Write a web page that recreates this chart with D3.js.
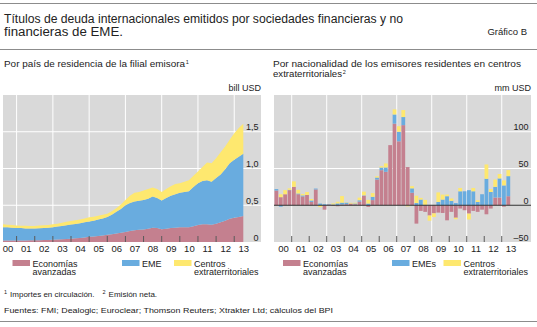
<!DOCTYPE html>
<html lang="es">
<head>
<meta charset="UTF-8">
<title>Títulos de deuda internacionales de EME</title>
<script src="https://cdn.jsdelivr.net/npm/d3@7"></script>
<style>
  * { box-sizing: border-box; padding: 0; margin: 0; border: 0; }
  body { background: #fff; }
  svg text { font-family: "Liberation Sans", Arial, sans-serif; fill: #222; }
</style>
</head>
<body>
<svg width="537" height="327"></svg>
<script>
// trimestres 2000T1 - 2013T2 (inicio de cada trimestre, en años)
var quarters = [];
for (var yr = 2000; yr <= 2013; yr++) {
  for (var q = 0; q < 4; q++) {
    if (yr === 2013 && q > 1) break;
    quarters.push(yr + q / 4);
  }
}
var yearLabels = ["00", "01", "02", "03", "04", "05", "06", "07", "08", "09", "10", "11", "12", "13"];
var gridYears = [2001, 2003, 2005, 2007, 2009, 2011, 2013];
var tickYears = [2001, 2002, 2003, 2004, 2005, 2006, 2007, 2008, 2009, 2010, 2011, 2012, 2013];

// panel izquierdo: importes en circulación, bill USD
var stockAdv = [0.02, 0.02, 0.02, 0.022, 0.022, 0.022, 0.023, 0.025, 0.025, 0.027, 0.028, 0.03, 0.033, 0.036,
  0.04, 0.045, 0.05, 0.055, 0.062, 0.07, 0.075, 0.082, 0.09, 0.1, 0.105, 0.115, 0.125, 0.136, 0.15, 0.16,
  0.165, 0.17, 0.18, 0.195, 0.19, 0.175, 0.18, 0.19, 0.195, 0.2, 0.2, 0.2, 0.215, 0.23, 0.24, 0.24, 0.235,
  0.25, 0.27, 0.29, 0.315, 0.33, 0.34, 0.355];
var stockEme = [0.18, 0.18, 0.175, 0.168, 0.168, 0.163, 0.16, 0.158, 0.163, 0.163, 0.167, 0.17, 0.177, 0.182,
  0.188, 0.192, 0.195, 0.2, 0.206, 0.21, 0.215, 0.223, 0.23, 0.24, 0.265, 0.295, 0.325, 0.364, 0.38, 0.39,
  0.395, 0.4, 0.41, 0.425, 0.41, 0.39, 0.42, 0.44, 0.455, 0.47, 0.48, 0.49, 0.535, 0.57, 0.59, 0.6, 0.585,
  0.62, 0.65, 0.7, 0.755, 0.79, 0.82, 0.845];
var stockOff = [0.04, 0.035, 0.035, 0.035, 0.032, 0.035, 0.035, 0.035, 0.037, 0.038, 0.037, 0.04, 0.04, 0.044,
  0.047, 0.049, 0.05, 0.05, 0.052, 0.056, 0.055, 0.052, 0.05, 0.046, 0.05, 0.05, 0.06, 0.07, 0.1, 0.12,
  0.12, 0.13, 0.13, 0.12, 0.12, 0.115, 0.12, 0.13, 0.14, 0.13, 0.14, 0.15, 0.15, 0.16, 0.19, 0.24, 0.25,
  0.27, 0.3, 0.31, 0.32, 0.36, 0.39, 0.41];

// panel derecho: emisión neta, mm USD
var netAdv = [20, 11, 15, 20.5, 25, 15, 12, 14, 4.5, 21.5, 0, -6, 1, -1, -1.4, 1, 1.5, 2.3, 1.4, 5,
  13, -2.3, 7, 35, 47.7, 45.5, 81.8, 111, 87, 109, 52, 17, -25, -7.7, -9, -14, -11, -10, -10.5, -20.5,
  -9, -17, -4.5, -6.8, -11.4, -7.7, -9, -6, -12.3, -4.5, 10.5, 10.5, -2, 12.3];
var netEme = [2, -2, 0, 0.5, 0, 1, 1.4, 0, 2, 1.2, 2.3, 1.4, 0.5, 1, 2.5, 2.5, 2, 0, 1, 1.8,
  0.5, 2.3, 4.5, 2.7, 3.6, 5.9, 0, 12.5, 13, 11, 0, 6, 3, 7.7, 0.5, 0, 0, 4.5, 7.7, 12.3,
  6, 3, 19, 19, 20.5, 19, 4.5, 15, 36, 18, 14.5, 26, 27, 27.3];
var netOff = [0, 4, 5.5, 2, 7.5, 5, 2, 4, 2, 0, -2.5, 0, 0, 1.5, 2.3, 9, 0.5, 1, 1, 3.6,
  5, 5, 5, 1.8, 1.8, 5.5, 0, 7, 7.5, 9.5, -1.5, 3, 10, 2.3, 6.8, -7, -5, 13, 6.8, 2.3,
  3.2, -2, 4.5, 0, -8, 4.5, 2.3, 0, 19.5, 4, 10, 6, 6.8, 8.2];

var keys = ["adv", "eme", "off"];
var colors = { adv: "#c4808f", eme: "#69acdf", off: "#fee86f" };
var leftLegend = [["Economías", "avanzadas"], ["EME"], ["Centros", "extraterritoriales"]];
var rightLegend = [["Economías", "avanzadas"], ["EMEs"], ["Centros", "extraterritoriales"]];
var leftTicks = [0, 0.5, 1, 1.5];
var rightTicks = [-50, 0, 50, 100];

var svg = d3.select("svg");
var TOP = 95, BOT = 242;

// ---- cabecera ----
svg.append("line").attr("x1", 0).attr("x2", 537).attr("y1", 3.5).attr("y2", 3.5)
  .attr("stroke", "#8c8c8c").attr("stroke-width", 1);
svg.append("text").attr("x", 4).attr("y", 22.5).attr("font-size", 12.5)
  .attr("textLength", 399).attr("lengthAdjust", "spacingAndGlyphs")
  .text("Títulos de deuda internacionales emitidos por sociedades financieras y no");
svg.append("text").attr("x", 4).attr("y", 35.5).attr("font-size", 12.5)
  .attr("textLength", 119).attr("lengthAdjust", "spacingAndGlyphs")
  .text("financieras de EME.");
svg.append("text").attr("x", 527).attr("y", 34.5).attr("font-size", 9.5).attr("text-anchor", "end")
  .text("Gráfico B");
svg.append("line").attr("x1", 0).attr("x2", 537).attr("y1", 49.5).attr("y2", 49.5)
  .attr("stroke", "#8c8c8c").attr("stroke-width", 1);

function subtitle(x, y, txt, len, sup) {
  var t = svg.append("text").attr("x", x).attr("y", y).attr("font-size", 9.5)
    .attr("textLength", len).attr("lengthAdjust", "spacingAndGlyphs").text(txt);
  if (sup) svg.append("text").attr("x", x + len + 0.8).attr("y", y - 3).attr("font-size", 5.5).text(sup);
  return t;
}
subtitle(4, 66.5, "Por país de residencia de la filial emisora", 181, "1");
subtitle(273, 66.5, "Por nacionalidad de los emisores residentes en centros", 248);
subtitle(273, 76.5, "extraterritoriales", 69, "2");

// ---- marco común de cada panel ----
function frame(x0, x1, xScale, yScale, hLines, unit) {
  var g = svg.append("g");
  g.append("rect").attr("x", x0).attr("y", TOP).attr("width", x1 - x0).attr("height", BOT - TOP)
    .attr("fill", "#d9d9d9");
  g.selectAll(".vg").data(gridYears).enter().append("line")
    .attr("x1", xScale).attr("x2", xScale).attr("y1", TOP).attr("y2", BOT)
    .attr("stroke", "#fff").attr("stroke-width", 1);
  g.selectAll(".hg").data(hLines).enter().append("line")
    .attr("x1", x0).attr("x2", x1).attr("y1", yScale).attr("y2", yScale)
    .attr("stroke", "#fff").attr("stroke-width", 1);
  svg.append("text").attr("x", x1).attr("y", 91).attr("font-size", 9).attr("text-anchor", "end")
    .attr("fill", "#333").text(unit);
  return g;
}

function xAxis(xScale) {
  var ax = d3.axisBottom(xScale)
    .tickValues(yearLabels.map(function (d, i) { return 2000 + i + 0.5; }))
    .tickFormat(function (d) { return yearLabels[Math.floor(d) - 2000]; })
    .tickSize(0).tickPadding(0);
  var g = svg.append("g").attr("transform", "translate(0," + 245 + ")").call(ax);
  g.select(".domain").remove();
  g.selectAll("text").attr("font-size", 9.5).attr("font-family", "Liberation Sans, Arial, sans-serif")
    .attr("fill", "#222").attr("dy", "0.72em");
}

function ticks(xScale) {
  svg.append("g").selectAll("line").data(tickYears).enter().append("line")
    .attr("x1", xScale).attr("x2", xScale).attr("y1", BOT - 6).attr("y2", BOT)
    .attr("stroke", "#5a5a5a").attr("stroke-width", 1);
}

function yAxis(yScale, xRight, fmt, values) {
  var ax = d3.axisRight(yScale).tickValues(values).tickFormat(fmt).tickSize(0).tickPadding(0);
  var g = svg.append("g").attr("transform", "translate(" + xRight + ",0)").call(ax);
  g.select(".domain").remove();
  g.selectAll("text").attr("text-anchor", "end").attr("dy", "-2").attr("x", 0)
    .attr("font-size", 9).attr("font-family", "Liberation Sans, Arial, sans-serif").attr("fill", "#222");
}

function legend(items, xs) {
  items.forEach(function (lines, i) {
    svg.append("rect").attr("x", xs[i]).attr("y", 260).attr("width", 17.5).attr("height", 6)
      .attr("fill", colors[keys[i]]);
    lines.forEach(function (l, j) {
      svg.append("text").attr("x", xs[i] + 20).attr("y", 266.5 + j * 8.7).attr("font-size", 9)
        .attr("fill", "#222").text(l);
    });
  });
}

// ---- panel izquierdo: áreas apiladas ----
var xL = d3.scaleLinear().domain([2000.25, 2013.5]).range([3, 243.3]);
var yL = d3.scaleLinear().domain([0, 2]).range([BOT, TOP]);
frame(3, 261, xL, yL, [0.5, 1, 1.5], "bill USD");

var stockRows = quarters.map(function (t, i) {
  return { t: t + 0.25, adv: stockAdv[i], eme: stockEme[i], off: stockOff[i] };
});
var stockSeries = d3.stack().keys(keys)(stockRows);
var area = d3.area()
  .x(function (d) { return xL(d.data.t); })
  .y0(function (d) { return yL(d[0]); })
  .y1(function (d) { return yL(d[1]); });
svg.append("g").selectAll("path").data(stockSeries).enter().append("path")
  .attr("d", area).attr("fill", function (d) { return colors[d.key]; });
ticks(xL);
xAxis(xL);
yAxis(yL, 258.5, function (d) { return d === 0 ? "0" : d3.format(".1f")(d).replace(".", ","); }, leftTicks);
legend(leftLegend, [12.5, 122, 174]);

// ---- panel derecho: barras apiladas ----
var xR = d3.scaleLinear().domain([2000, 2013.5]).range([274.2, 510.5]);
var yR = d3.scaleLinear().domain([-50, 150]).range([BOT, TOP]);
frame(274, 531, xR, yR, [50, 100], "mm USD");

var flowRows = quarters.map(function (t, i) {
  return { t: t, adv: netAdv[i], eme: netEme[i], off: netOff[i] };
});
var flowSeries = d3.stack().keys(keys).offset(d3.stackOffsetDiverging)(flowRows);
var bw = xR(2000.25) - xR(2000);
svg.append("g").selectAll("g").data(flowSeries).enter().append("g")
  .attr("fill", function (d) { return colors[d.key]; })
  .selectAll("rect").data(function (d) { return d; }).enter().append("rect")
  .attr("x", function (d) { return xR(d.data.t) + 0.3; })
  .attr("width", bw - 0.6)
  .attr("y", function (d) { return yR(Math.max(d[0], d[1])); })
  .attr("height", function (d) { return Math.abs(yR(d[0]) - yR(d[1])); });

svg.append("line").attr("x1", 274).attr("x2", 531).attr("y1", yR(0)).attr("y2", yR(0))
  .attr("stroke", "#333").attr("stroke-width", 1);
ticks(xR);
xAxis(xR);
yAxis(yR, 528.5, function (d) { return d < 0 ? "\u2013" + Math.abs(d) : String(d); }, rightTicks);
legend(rightLegend, [283, 392, 443.5]);

// ---- notas y fuentes ----
var note = svg.append("text").attr("x", 4).attr("y", 297).attr("font-size", 8);
note.append("tspan").attr("font-size", 5.5).attr("dy", -3).text("1");
note.append("tspan").attr("dx", 3).attr("dy", 3).text("Importes en circulación.");
note.append("tspan").attr("font-size", 5.5).attr("dx", 8).attr("dy", -3).text("2");
note.append("tspan").attr("dx", 3).attr("dy", 3).text("Emisión neta.");
svg.append("text").attr("x", 4).attr("y", 313).attr("font-size", 8)
  .attr("textLength", 329).attr("lengthAdjust", "spacingAndGlyphs")
  .text("Fuentes: FMI; Dealogic; Euroclear; Thomson Reuters; Xtrakter Ltd; cálculos del BPI");
svg.append("line").attr("x1", 0).attr("x2", 537).attr("y1", 321.5).attr("y2", 321.5)
  .attr("stroke", "#8c8c8c").attr("stroke-width", 1);
</script>
</body>
</html>
